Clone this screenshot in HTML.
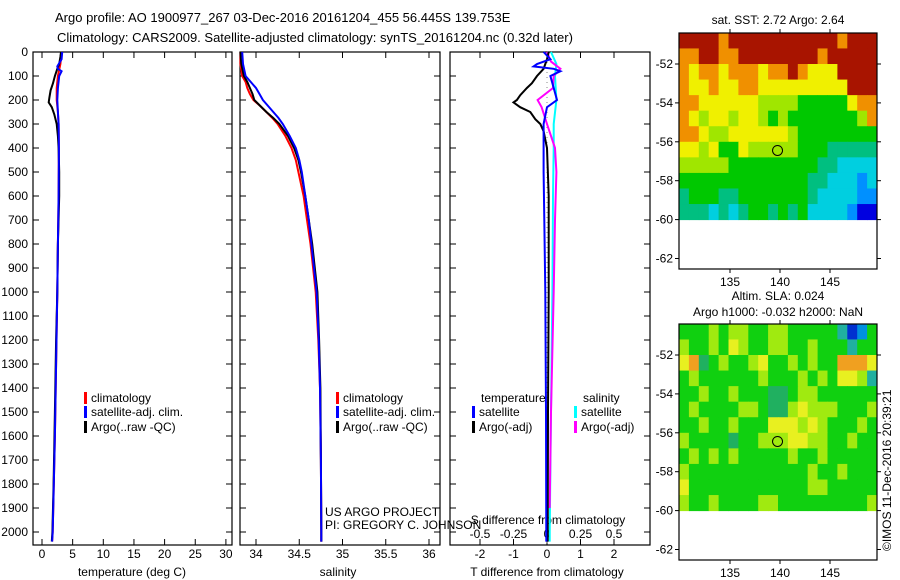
<!DOCTYPE html>
<html><head><meta charset="utf-8"><style>
html,body{margin:0;padding:0;background:#fff;}
svg{display:block;font-family:"Liberation Sans",sans-serif;}
</style></head><body>
<svg id="chart" width="900" height="580" viewBox="0 0 900 580" xmlns="http://www.w3.org/2000/svg">
<text x="55" y="22" font-size="13">Argo profile: AO 1900977_267 03-Dec-2016 20161204_455 56.445S 139.753E</text>
<text x="57" y="42" font-size="13">Climatology: CARS2009. Satellite-adjusted climatology: synTS_20161204.nc (0.32d later)</text>
</svg>
<script>
// ---------- data ----------
const tDepthArgo=[0,20,50,70,100,130,160,190,210,230,260,300,350,400,500,600,800,1000,1200,1500,1800,2000,2040];
const tArgo=[3.1,3.0,2.8,2.5,2.1,1.8,1.4,1.2,1.1,1.6,2.0,2.4,2.6,2.7,2.8,2.8,2.6,2.5,2.3,2.1,1.9,1.7,1.6];
const tDepthClim=[0,50,100,150,200,250,300,400,600,800,1000,1300,1600,2000,2040];
const tClim=[3.2,3.0,2.6,2.4,2.4,2.6,2.7,2.75,2.7,2.6,2.5,2.3,2.1,1.75,1.65];
const tDepthSat=[0,30,60,70,80,100,150,200,250,300,400,600,800,1000,1300,1600,2000,2040];
const tSat=[3.3,3.2,2.5,2.6,3.2,2.8,2.6,2.5,2.6,2.7,2.75,2.7,2.6,2.5,2.3,2.1,1.75,1.65];
const sDepth=[0,50,100,125,150,175,200,225,250,275,300,350,400,450,500,600,700,800,900,1000,1200,1400,1700,2000,2040];
const sArgo=[33.82,33.83,33.86,33.9,33.93,33.96,33.98,34.05,34.12,34.2,34.27,34.37,34.44,34.49,34.52,34.57,34.61,34.65,34.68,34.71,34.73,34.745,34.75,34.755,34.755];
const sClim=[33.82,33.82,33.84,33.88,33.9,33.93,33.97,34.05,34.12,34.19,34.25,34.34,34.41,34.46,34.49,34.55,34.59,34.63,34.66,34.69,34.72,34.74,34.75,34.755,34.755];
const sSat=[33.84,33.85,33.88,33.94,34.0,34.04,34.08,34.14,34.2,34.26,34.31,34.39,34.46,34.5,34.53,34.57,34.61,34.64,34.67,34.7,34.725,34.74,34.75,34.755,34.755];
const dtDepthArgo=[0,30,50,70,100,130,150,180,200,210,230,250,280,300,330,400,600,1000,1500,2000,2040];
const dtArgo=[0.05,0,-0.05,-0.1,-0.3,-0.45,-0.6,-0.8,-0.9,-1.0,-0.8,-0.5,-0.35,-0.2,-0.1,0.0,0.05,0.05,0.03,0.02,0.02];
const dtDepthSat=[0,30,50,60,70,80,100,150,200,230,300,500,700,1000,1500,2000,2040];
const dtSat=[-0.1,0.1,-0.3,-0.4,0.2,0.4,0.1,0.2,0.3,0.0,-0.1,-0.1,-0.08,-0.05,-0.03,-0.02,-0.02];
const dsDepthSat=[0,50,100,200,300,400,600,1000,1500,2000,2040];
const dsSat=[0.03,0.07,0.06,0.07,0.05,0.05,0.045,0.04,0.03,0.02,0.02];
const dsDepthArgo=[0,40,70,100,150,200,230,300,400,500,700,1000,1500,1900];
const dsArgo=[0.0,0.03,0.1,0.05,0.045,-0.07,-0.04,0.0,0.06,0.07,0.06,0.05,0.03,0.02];
const depthTicks=[0,100,200,300,400,500,600,700,800,900,1000,1100,1200,1300,1400,1500,1600,1700,1800,1900,2000];
const tempTicks=[0,5,10,15,20,25,30];
const salTicks=["34","34.5","35","35.5","36"];
const tdTicks=[-2,-1,0,1,2];
const sdTicks=["-0.5","-0.25","0","0.25","0.5"];
const latTicks=[-52,-54,-56,-58,-60,-62];
const lonTicks=[135,140,145];
const sstGrid=[
"99998999999999998999",
"88998899999999899999",
"87887888788987779999",
"87787788777777777999",
"88777777666655555788",
"87677677656555555568",
"88766777777655555555",
"77675576666655544444",
"66666555555555443333",
"55555555555554433323",
"45554455555554333322",
"44434345545453333211"];
const slaGrid=[
"55565665566555553125",
"65565765566556555355",
"78456556755656558887",
"56555555655565657763",
"55655655544566555555",
"56555566544676665556",
"55655655577767655565",
"65555455666776655655",
"56565655555655655555",
"65555555555556556555",
"75555555555556655555",
"65565555665555555556"];
const argoLon=139.753, argoLat=-56.445;

// ---------- helpers ----------
const svg=document.getElementById('chart');
const NS='http://www.w3.org/2000/svg';
function mk(tag,attrs,parent){const e=document.createElementNS(NS,tag);for(const k in attrs)e.setAttribute(k,attrs[k]);(parent||svg).appendChild(e);return e;}
const yTop=52, yBot=545;
function yD(d){return yTop+d*0.24;}
function xT(v){return 42+v*6.13;}
function xS(v){return 256+(v-34)*86.5;}
function xTD(v){return 547+v*33.5;}
function xSD(v){return 547+v*134;}
const panels=[[33,232],[240,440],[450,650]];

function line(xs,ds,fx,color,name){
  const pts=xs.map((v,i)=>fx(v).toFixed(1)+','+yD(ds[i]).toFixed(1)).join(' ');
  const p=mk('polyline',{points:pts,fill:'none',stroke:color,'stroke-width':2});
  
  
}

// ---------- profile panels ----------
panels.forEach((pn,pi)=>{
  const r=mk('rect',{x:pn[0],y:yTop,width:pn[1]-pn[0],height:yBot-yTop,fill:'none',stroke:'#000','stroke-width':1.2});
  
  
  depthTicks.forEach(d=>{
    const y=yD(d);
    const a=mk('line',{x1:pn[0],x2:pn[0]+6,y1:y,y2:y,stroke:'#000'});
    
    
    const b=mk('line',{x1:pn[1]-6,x2:pn[1],y1:y,y2:y,stroke:'#000'});
    
    
  });
});
depthTicks.forEach(d=>{
  const t=mk('text',{x:28,y:yD(d)+4,'font-size':12,'text-anchor':'end'});
  t.textContent=d;
  
  
});
function xAxis(ticks,fx,pn,yLab,name){
  ticks.forEach(v=>{
    const x=fx(parseFloat(v));
    const a=mk('line',{x1:x,x2:x,y1:yBot,y2:yBot-6,stroke:'#000'});
    
    
    const b=mk('line',{x1:x,x2:x,y1:yTop,y2:yTop+6,stroke:'#000'});
    
    
    const t=mk('text',{x:x,y:yLab,'font-size':12,'text-anchor':'middle'});
    t.textContent=v;
    
    
  });
}
xAxis(tempTicks,xT,panels[0],558,'temperature-axis');
xAxis(salTicks,xS,panels[1],558,'salinity-axis');
xAxis(tdTicks,xTD,panels[2],558,'t-diff-axis');
sdTicks.forEach(v=>{
  const t=mk('text',{x:xSD(parseFloat(v)),y:538,'font-size':12,'text-anchor':'middle'});
  t.textContent=v;
  
  
});
function label(x,y,txt,name,anchor,size){
  const t=mk('text',{x:x,y:y,'font-size':size||12,'text-anchor':anchor||'start'});
  t.textContent=txt;
  
  
  return t;
}
label(132,576,'temperature (deg C)','temperature-axis-title','middle');
label(338,576,'salinity','salinity-axis-title','middle');
label(547,576,'T difference from climatology','t-diff-axis-title','middle');
label(548,524,'S difference from climatology','s-diff-axis-title','middle');
label(325,516,'US ARGO PROJECT','project-label');
label(325,529,'PI: GREGORY C. JOHNSON','pi-label');

// zero reference in diff panel
const z=mk('line',{x1:xTD(0),x2:xTD(0),y1:yTop,y2:yBot,stroke:'#555','stroke-dasharray':'1,4','stroke-width':0.7});



line(tClim,tDepthClim,xT,'#f00','temperature-climatology-line');
line(tArgo,tDepthArgo,xT,'#000','temperature-argo-line');
line(tSat,tDepthSat,xT,'#00f','temperature-satellite-line');
line(sClim,sDepth,xS,'#f00','salinity-climatology-line');
line(sArgo,sDepth,xS,'#000','salinity-argo-line');
line(sSat,sDepth,xS,'#00f','salinity-satellite-line');
line(dsSat,dsDepthSat,xSD,'#0ff','s-diff-satellite-line');
line(dsArgo,dsDepthArgo,xSD,'#f0f','s-diff-argo-line');
line(dtArgo,dtDepthArgo,xTD,'#000','t-diff-argo-line');
line(dtSat,dtDepthSat,xTD,'#00f','t-diff-satellite-line');

// legends
function legend(x,y,color,txt){
  const m=mk('rect',{x:x,y:y-10,width:3,height:12,fill:color});
  
  
  label(x+7,y,txt,'legend-entry');
}
[84,336].forEach(x=>{
  legend(x,402,'#f00','climatology');
  legend(x,416,'#00f','satellite-adj. clim.');
  legend(x,431,'#000','Argo(..raw -QC)');
});
label(481,402,'temperature','legend-heading');
label(583,402,'salinity','legend-heading');
legend(472,416,'#00f','satellite');
legend(472,431,'#000','Argo(-adj)');
legend(574,416,'#0ff','satellite');
legend(574,431,'#f0f','Argo(-adj)');

// ---------- maps ----------
const cmap={'0':'#00008f','1':'#0000e0','2':'#0090ff','3':'#00cfe0','4':'#00bf80','5':'#00c800','6':'#a0e600','7':'#f0f000','8':'#f09000','9':'#a81400'};
const cmapSla={'1':'#0030d0','2':'#0090e0','3':'#20b0a0','4':'#20b060','5':'#10d010','6':'#a0ea10','7':'#e8f020','8':'#f0a020'};
function mapPanel(top,grid,cm,title1,title2,name){
  const L=679,R=877,B=top+236;
  const fx=lon=>730+(lon-135)*10;
  const fy=lat=>top+31+(-52-lat)*19.45;
  const g=mk('g',{});
  
  
  const rows=grid.length, cols=grid[0].length;
  for(let r=0;r<rows;r++){for(let c=0;c<cols;c++){
    const la1=-50.4-r*(9.6/rows), la2=la1-9.6/rows;
    const lo1=129.9+c*(19.8/cols), lo2=lo1+19.8/cols;
    const x1=Math.max(L,fx(lo1)), x2=Math.min(R,fx(lo2));
    const y1=Math.max(top,fy(la1)), y2=fy(la2);
    const cell=mk('rect',{x:x1,y:y1,width:x2-x1+0.5,height:y2-y1+0.5,fill:cm[grid[r][c]]},g);
    
    
  }}
  const fr=mk('rect',{x:L,y:top,width:R-L,height:B-top,fill:'none',stroke:'#000','stroke-width':1.2});
  
  
  latTicks.forEach(la=>{
    const y=fy(la);
    const a=mk('line',{x1:L,x2:L-4,y1:y,y2:y,stroke:'#000'});
    
    
    const b=mk('line',{x1:R,x2:R+4,y1:y,y2:y,stroke:'#000'});
    
    
    label(673,y+4,String(la),'lat-tick-label','end');
  });
  lonTicks.forEach(lo=>{
    const x=fx(lo);
    const a=mk('line',{x1:x,x2:x,y1:top,y2:top-4,stroke:'#000'});
    
    
    const b=mk('line',{x1:x,x2:x,y1:B,y2:B+4,stroke:'#000'});
    
    
    label(x,B+17,String(lo),'lon-tick-label','middle');
  });
  const c=mk('circle',{cx:fx(argoLon),cy:fy(argoLat),r:5,fill:'none',stroke:'#000','stroke-width':1});
  
  
  if(title2){label(778,top-24,title1,name+'-title','middle');label(778,top-8,title2,name+'-subtitle','middle');}
  else label(778,top-9,title1,name+'-title','middle');
}
mapPanel(33,sstGrid,cmap,'sat. SST: 2.72 Argo: 2.64',null,'sst-map');
mapPanel(324,slaGrid,cmapSla,'Altim. SLA: 0.024','Argo h1000: -0.032 h2000: NaN','sla-map');
const cr=label(0,0,'©IMOS 11-Dec-2016 20:39:21','imos-credit','start',12);
cr.setAttribute('transform','translate(891,551) rotate(-90)');
</script>
</body></html>
